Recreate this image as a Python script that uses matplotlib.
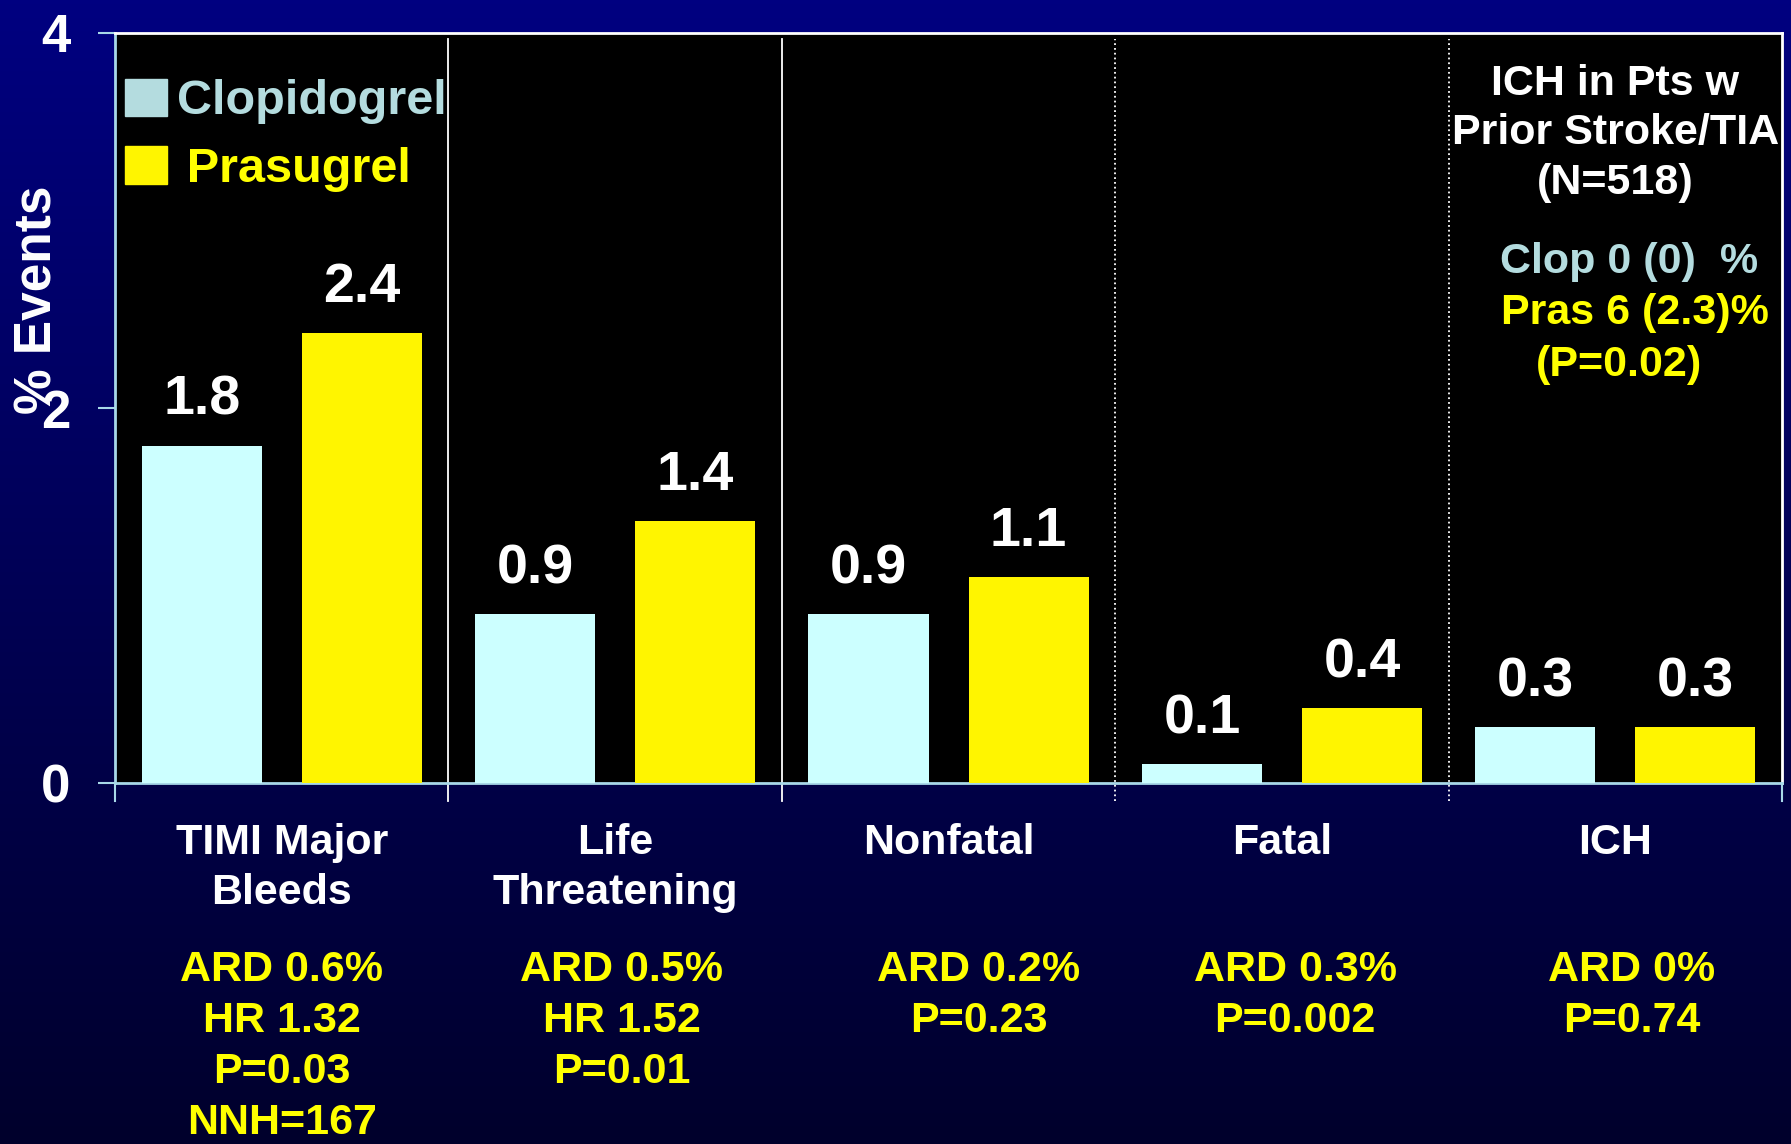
import numpy as np
import matplotlib
matplotlib.use("Agg")
import matplotlib.pyplot as plt
from matplotlib.patches import Rectangle
from matplotlib.colors import LinearSegmentedColormap

# bleeding endpoints, % events
categories = ["TIMI Major\nBleeds", "Life\nThreatening", "Nonfatal", "Fatal", "ICH"]
clopidogrel = [1.8, 0.9, 0.9, 0.1, 0.3]
prasugrel = [2.4, 1.4, 1.1, 0.4, 0.3]
stats = ["ARD 0.6%\nHR 1.32\nP=0.03\nNNH=167",
         "ARD 0.5%\nHR 1.52\nP=0.01",
         "ARD 0.2%\nP=0.23",
         "ARD 0.3%\nP=0.002",
         "ARD 0%\nP=0.74"]
stats_shift = [0.0, 0.02, 0.09, 0.04, 0.05]
yticks = [0, 2, 4]

plt.rcParams["font.family"] = ["Liberation Sans", "DejaVu Sans"]
plt.rcParams["font.weight"] = "bold"

CLOP = "#CCFFFF"
PRAS = "#FFF500"
CLOP_TXT = "#B4DCDF"
YEL = "#FFFF00"
SPINE = "#A8D8E8"

fig = plt.figure(figsize=(17.91, 11.44), dpi=100)

# navy gradient background
bg = fig.add_axes([0, 0, 1, 1], zorder=-10)
cmap = LinearSegmentedColormap.from_list("bg", ["#000080", "#00002C"])
bg.imshow(np.linspace(0, 1, 256).reshape(-1, 1), aspect="auto", cmap=cmap,
          extent=[0, 1, 0, 1])
bg.axis("off")

ax = fig.add_axes([0.0642, 0.3155, 0.9308, 0.6557])
ax.set_facecolor("black")

x = np.arange(len(categories))
w = 0.36
b1 = ax.bar(x - 0.24, clopidogrel, w, color=CLOP, zorder=3)
b2 = ax.bar(x + 0.24, prasugrel, w, color=PRAS, zorder=3)

for bars, vals in ((b1, clopidogrel), (b2, prasugrel)):
    for r, v in zip(bars, vals):
        ax.text(r.get_x() + r.get_width() / 2, v + 0.10, f"{v:.1f}",
                ha="center", va="bottom", color="white", fontsize=40, zorder=4)

ax.set_xlim(-0.5, 4.5)
ax.set_ylim(0, 4)

# group dividers, solid then dotted, running down past the axis as ticks
for i, xb in enumerate([0.5, 1.5, 2.5, 3.5]):
    ls = "-" if i < 2 else ":"
    ax.plot([xb, xb], [-0.095, 3.97], color="white", lw=1.3, ls=ls,
            clip_on=False, zorder=2)
for xb in [-0.5, 4.5]:
    ax.plot([xb, xb], [-0.095, 0], color=SPINE, lw=1.5, clip_on=False, zorder=5)

ax.set_xticks([])
ax.set_yticks(yticks)
ax.set_yticklabels([str(t) for t in yticks], color="white", fontsize=38)
ax.tick_params(axis="y", length=12, width=1.5, color=SPINE, pad=20)

for s in ["left", "bottom"]:
    ax.spines[s].set_color(SPINE)
    ax.spines[s].set_linewidth(2)
for s in ["top", "right"]:
    ax.spines[s].set_color("white")
    ax.spines[s].set_linewidth(2)

fig.text(0.021, 0.738, "% Events", rotation=90, ha="center", va="center",
         color="white", fontsize=37)

# category names and statistics under the axis
xt = ax.get_xaxis_transform()
for i, (c, s) in enumerate(zip(categories, stats)):
    ax.text(i, -0.053, c, ha="center", va="top", color="white", fontsize=31,
            linespacing=1.34, transform=xt)
    ax.text(i + stats_shift[i], -0.222, s, ha="center", va="top", color=YEL,
            fontsize=31, linespacing=1.36, transform=xt)

# prior stroke/TIA subgroup note
ax.text(4.0, 0.866, "ICH in Pts w\nPrior Stroke/TIA\n(N=518)", ha="center",
        va="center", color="white", fontsize=31, linespacing=1.32, transform=xt)
ax.text(4.04, 0.695, "Clop 0 (0)  %", ha="center", va="center", color=CLOP_TXT,
        fontsize=31, transform=xt)
ax.text(4.06, 0.627, "Pras 6 (2.3)%", ha="center", va="center", color=YEL,
        fontsize=31, transform=xt)
ax.text(4.01, 0.558, "(P=0.02)", ha="center", va="center", color=YEL,
        fontsize=31, transform=xt)

handles = [Rectangle((0, 0), 1, 1, color=CLOP_TXT), Rectangle((0, 0), 1, 1, color=PRAS)]
leg = ax.legend(handles, ["Clopidogrel", "\u2009Prasugrel"], loc="upper left",
                bbox_to_anchor=(0.0, 0.952), frameon=False, fontsize=35,
                labelcolor=[CLOP_TXT, YEL], handlelength=0.88, handleheight=0.82,
                handletextpad=0.2, labelspacing=0.45, borderpad=0.1,
                borderaxespad=0.1)

fig.savefig("out.png", dpi=100)
